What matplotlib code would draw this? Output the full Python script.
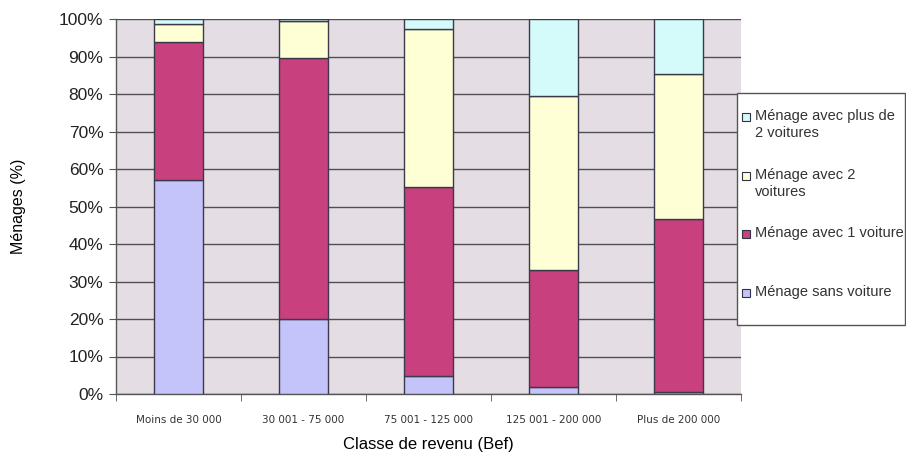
import matplotlib
matplotlib.use("Agg")
import matplotlib.pyplot as plt
import numpy as np
from matplotlib.ticker import FixedLocator
from matplotlib.patches import Rectangle

plt.rcParams['font.family'] = ['Liberation Sans', 'DejaVu Sans']

categories = ["Moins de 30 000", "30 001 - 75 000", "75 001 - 125 000",
              "125 001 - 200 000", "Plus de 200 000"]
sans_voiture = [57.0, 20.0, 4.8, 2.0, 0.6]
une_voiture = [37.0, 69.5, 50.5, 31.0, 46.0]
deux_voitures = [4.8, 10.0, 42.0, 46.5, 38.7]
plus_de_deux = [1.2, 0.5, 2.7, 20.5, 14.7]
y_ticks = list(range(0, 101, 10))
y_tick_labels = [f"{v}%" for v in y_ticks]

series = [
    ("Ménage sans voiture", sans_voiture, "#c4c4fa"),
    ("Ménage avec 1 voiture", une_voiture, "#c8407e"),
    ("Ménage avec 2\nvoitures", deux_voitures, "#ffffd6"),
    ("Ménage avec plus de\n2 voitures", plus_de_deux, "#d4fafa"),
]

W, H = 906, 455
fig = plt.figure(figsize=(W / 100, H / 100), dpi=100)
ax = fig.add_axes([116 / W, 1 - 394 / H, (741 - 116) / W, (394 - 19) / H])
ax.set_facecolor("#e4dee4")

x = np.arange(len(categories))
bottom = np.zeros(len(categories))
for label, vals, color in series:
    ax.bar(x, vals, width=0.39, bottom=bottom, color=color,
           edgecolor="#3a3a4a", linewidth=1.0, label=label, zorder=3)
    bottom += np.array(vals)

ax.set_xlim(-0.5, len(categories) - 0.5)
ax.set_ylim(0, 100)
ax.set_yticks(y_ticks)
ax.set_yticklabels(y_tick_labels, fontsize=12.5, color="#222222")
ax.grid(axis="y", color="#505050", linewidth=1.0, zorder=1)
ax.set_axisbelow(True)

ax.set_xticks(x)
ax.set_xticklabels(categories, fontsize=7.5, color="#333333", family="DejaVu Sans")
ax.tick_params(axis="x", which="major", length=0, pad=15)
ax.xaxis.set_minor_locator(FixedLocator(np.arange(-0.5, len(categories), 1.0)))
ax.tick_params(axis="x", which="minor", length=5, color="#555555")
ax.tick_params(axis="y", length=5, color="#555555", pad=4)

for side in ["top", "right"]:
    ax.spines[side].set_visible(False)
for side in ["left", "bottom"]:
    ax.spines[side].set_color("#555555")
    ax.spines[side].set_linewidth(1.0)

ax.set_xlabel("Classe de revenu (Bef)", fontsize=12, labelpad=9)
ax.set_ylabel("Ménages (%)", fontsize=11.5, labelpad=24)

# Legend box: one slot per series, top to bottom, marker beside the first line
def fx(px):
    return px / W

def fy(py):
    return 1 - py / H

fig.patches.append(Rectangle((fx(737), fy(325)), fx(905) - fx(737), fy(93) - fy(325),
                             transform=fig.transFigure, facecolor="white",
                             edgecolor="#555555", linewidth=1.0, zorder=5))
slot_top = 117
slot_step = 58.7
for i, (label, vals, color) in enumerate(series[::-1]):
    yc = slot_top + i * slot_step
    fig.patches.append(Rectangle((fx(742), fy(yc + 4)), fx(8), 8 / H,
                                 transform=fig.transFigure, facecolor=color,
                                 edgecolor="#333344", linewidth=0.8, zorder=6))
    fig.text(fx(755), fy(yc - 8), label, fontsize=10.5, color="#333333",
             va="top", ha="left", linespacing=1.3, zorder=7)

fig.savefig("out.png", dpi=100)
